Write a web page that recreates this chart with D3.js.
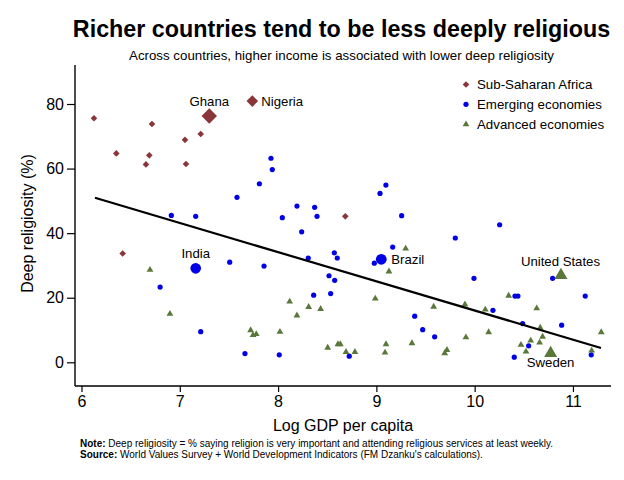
<!DOCTYPE html>
<html><head><meta charset="utf-8">
<script src="https://cdn.jsdelivr.net/npm/d3@7"></script>
<style>body{margin:0;background:#fff}svg{display:block;font-family:"Liberation Sans",Arial,sans-serif}</style>
</head><body><svg id="c" width="624" height="480"></svg>
<script>
const title = "Richer countries tend to be less deeply religious";
const subtitle = "Across countries, higher income is associated with lower deep religiosity";
const xLabel = "Log GDP per capita";
const yLabel = "Deep religiosity (%)";
const xTicks = [6, 7, 8, 9, 10, 11];
const yTicks = [0, 20, 40, 60, 80];
const groups = ["Sub-Saharan Africa", "Emerging economies", "Advanced economies"];

// [log GDP, deep religiosity]
const ssa = [[6.127,75.6],[6.717,73.8],[7.213,70.7],[7.053,68.9],[6.354,64.7],[6.69,64.1],[6.656,61.3],[7.063,61.4],[6.419,33.7],[8.684,45.2]];
const emerging = [[7.928,63.2],[7.941,59.7],[7.81,55.3],[7.582,51.1],[9.097,54.9],[9.037,52.3],[8.192,48.4],[8.372,48.0],[6.914,45.5],[7.162,45.2],[7.508,31.0],[7.857,29.8],[6.80,23.3],[7.213,9.5],[7.663,2.7],[8.043,44.8],[8.396,45.2],[9.257,45.4],[8.24,40.4],[9.803,38.5],[9.166,35.7],[8.572,33.9],[8.602,32.3],[8.307,32.3],[8.979,30.7],[8.518,26.8],[8.576,25.4],[8.362,20.8],[8.535,21.3],[9.39,14.3],[9.471,10.1],[9.593,7.9],[8.012,2.3],[8.724,1.9],[10.254,42.6],[9.993,26.0],[10.793,26.0],[10.41,20.5],[10.44,20.5],[11.125,20.5],[10.186,16.1],[10.488,12.0],[10.885,11.5],[10.549,5.1],[10.403,1.6],[11.186,2.3]];
const advanced = [[6.697,28.7],[6.90,15.1],[7.721,10.0],[7.745,8.5],[7.778,8.8],[9.298,35.3],[9.128,28.2],[8.118,18.9],[8.311,17.2],[8.433,16.6],[8.192,14.6],[8.989,19.8],[9.583,17.3],[9.901,18.0],[8.019,9.5],[9.911,7.8],[8.505,4.6],[8.609,5.7],[8.633,5.7],[8.691,3.3],[8.782,3.3],[9.098,5.7],[9.088,3.1],[9.362,6.0],[9.718,3.9],[9.695,2.9],[10.346,20.7],[10.108,16.4],[10.631,16.8],[10.142,9.4],[10.667,10.8],[10.691,8.0],[10.570,6.8],[10.471,5.5],[10.661,6.2],[10.522,3.4],[11.288,9.4],[11.19,3.7]];
// highlighted countries: name, group index, x, y
const highlights = [["Ghana",0,7.30,76.3],["Nigeria",0,7.738,80.9],["India",1,7.162,29.1],["Brazil",1,9.05,31.9],["United States",2,10.878,27.1],["Sweden",2,10.773,3.0]];
const fitLine = [[6.137,50.96],[11.285,4.43]];
const noteText = "Deep religiosity = % saying religion is very important and attending religious services at least weekly.";
const sourceText = "World Values Survey + World Development Indicators (FM Dzanku's calculations).";

const colors = ["#8a3539", "#0000e6", "#5a783a"];
const svg = d3.select("#c");
const x = d3.scaleLinear().domain([5.934, 11.387]).range([75, 611]);
const y = d3.scaleLinear().domain([0, 80]).range([362.3, 104]);
const plotTop = 65, plotBottom = 386;

function marker(g, s) {
  if (g === 0) return `M0,${-s}L${s},0L0,${s}L${-s},0Z`;
  if (g === 1) return `M${-s},0A${s},${s} 0 1,0 ${s},0A${s},${s} 0 1,0 ${-s},0Z`;
  const h = s * 1.732;
  return `M0,${-h*0.62}L${s},${h*0.38}L${-s},${h*0.38}Z`;
}
const small = [3.3, 2.6, 3.4];

// title
svg.append("text").attr("x", 341.5).attr("y", 37).attr("text-anchor","middle")
  .attr("font-size", 23.3).attr("font-weight","bold").text(title);
svg.append("text").attr("x", 341.5).attr("y", 60).attr("text-anchor","middle")
  .attr("font-size", 13.3).text(subtitle);

// axes
const gx = svg.append("g").attr("transform", `translate(0,${plotBottom})`)
  .call(d3.axisBottom(x).tickValues(xTicks).tickSize(6).tickPadding(4).tickFormat(d3.format("d")));
const gy = svg.append("g").attr("transform", `translate(75,0)`)
  .call(d3.axisLeft(y).tickValues(yTicks).tickSize(8).tickPadding(3).tickFormat(d3.format("d")));
gx.select(".domain").remove(); gy.select(".domain").remove();
[gx, gy].forEach(g => {
  g.selectAll("text").attr("font-size", 16).attr("fill","#000").attr("font-family","Liberation Sans, Arial, sans-serif");
  g.selectAll("line").attr("stroke","#000").attr("stroke-width",1.2);
});
svg.append("line").attr("x1",75).attr("x2",75).attr("y1",plotTop).attr("y2",plotBottom).attr("stroke","#000").attr("stroke-width",1.4);
svg.append("line").attr("x1",75).attr("x2",611).attr("y1",plotBottom).attr("y2",plotBottom).attr("stroke","#000").attr("stroke-width",1.4);

svg.append("text").attr("x", 343).attr("y", 431).attr("text-anchor","middle").attr("font-size",16).text(xLabel);
svg.append("text").attr("transform","translate(33,223.5) rotate(-90)").attr("text-anchor","middle").attr("font-size",16).text(yLabel);

// points
[ssa, emerging, advanced].forEach((data, gi) => {
  svg.append("g").selectAll("path").data(data).join("path")
    .attr("transform", d => `translate(${x(d[0])},${y(d[1])})`)
    .attr("d", marker(gi, small[gi])).attr("fill", colors[gi]);
});

// fit line
svg.append("path").datum(fitLine)
  .attr("d", d3.line().x(d => x(d[0])).y(d => y(d[1])))
  .attr("stroke","#000").attr("stroke-width",2.2).attr("fill","none");

// highlighted
const bigSize = {"Ghana":7.7,"Nigeria":5.8,"India":5.3,"Brazil":5.4,"United States":6.5,"Sweden":6.5};
svg.append("g").selectAll("path").data(highlights).join("path")
  .attr("transform", d => `translate(${x(d[2])},${y(d[3])})`)
  .attr("d", d => marker(d[1], bigSize[d[0]])).attr("fill", d => colors[d[1]]);

const labelPos = {
  "Ghana": {dx:0, dy:-9.5, a:"middle"},
  "Nigeria": {dx:9, dy:4.5, a:"start"},
  "India": {dx:0, dy:-10.5, a:"middle"},
  "Brazil": {dx:10, dy:4.5, a:"start"},
  "United States": {dx:-0.5, dy:-8.5, a:"middle"},
  "Sweden": {dx:0, dy:14, a:"middle"}
};
svg.append("g").selectAll("text").data(highlights).join("text")
  .attr("x", d => x(d[2]) + labelPos[d[0]].dx)
  .attr("y", d => y(d[3]) + labelPos[d[0]].dy)
  .attr("text-anchor", d => labelPos[d[0]].a)
  .attr("font-size", 13.2).text(d => d[0]);

// legend
const lg = svg.append("g").attr("transform","translate(466,84.5)");
groups.forEach((name, i) => {
  const row = lg.append("g").attr("transform", `translate(0,${i*19.8})`);
  row.append("path").attr("d", marker(i, small[i])).attr("fill", colors[i]);
  row.append("text").attr("x", 11).attr("y", 4.6).attr("font-size", 13.3).text(name);
});

// notes
const n1 = svg.append("text").attr("x",80).attr("y",446.5).attr("font-size",10);
n1.append("tspan").attr("font-weight","bold").text("Note:");
n1.append("tspan").text(" " + noteText);
const n2 = svg.append("text").attr("x",80).attr("y",457.5).attr("font-size",10);
n2.append("tspan").attr("font-weight","bold").text("Source:");
n2.append("tspan").text(" " + sourceText);
</script></body></html>
